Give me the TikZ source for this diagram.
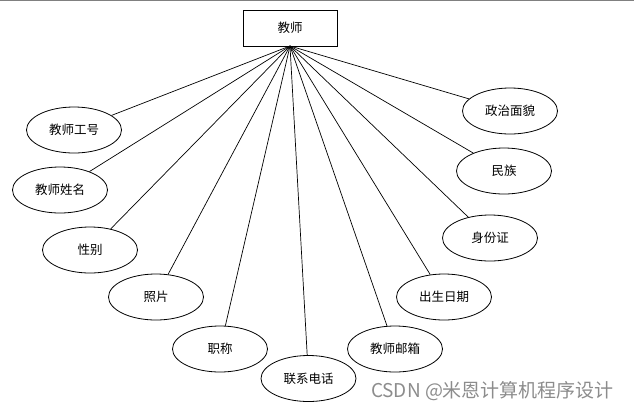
\documentclass[tikz,border=0pt]{standalone}
\usepackage{fontspec}
\setmainfont{Noto Sans CJK SC}
\usetikzlibrary{shapes.geometric}
\begin{document}
\begin{tikzpicture}[x=1pt,y=-1pt,
  attr/.style={draw=black,line width=0.8pt,ellipse,minimum width=95pt,minimum height=46pt,inner sep=0pt,font=\fontsize{12.5}{14}\selectfont},
  ent/.style={draw=black,line width=0.9pt,rectangle,minimum width=94pt,minimum height=36pt,inner sep=0pt,font=\fontsize{12.5}{14}\selectfont},
  link/.style={draw=black,line width=0.7pt}]
\useasboundingbox (0,0) rectangle (634,410);
\draw[gray,line width=1.2pt] (0,0.6) -- (634,0.6);
\node[ent] (t) at (290,28) {教师};
\coordinate (apex) at (290,46);
\node[attr] (a1) at (74,130) {教师工号};
\node[attr] (a2) at (60,190) {教师姓名};
\node[attr] (a3) at (90,250) {性别};
\node[attr] (a4) at (156,297) {照片};
\node[attr] (a5) at (220,349) {职称};
\node[attr] (a6) at (308.5,378.5) {联系电话};
\node[attr] (a7) at (395,349) {教师邮箱};
\node[attr] (a8) at (444,297) {出生日期};
\node[attr] (a9) at (490,238) {身份证};
\node[attr] (a10) at (504,171) {民族};
\node[attr] (a11) at (510,111) {政治面貌};
\foreach \n in {a1,a2,a3,a4,a5,a6,a7,a8,a9,a10,a11}
  \draw[link] (apex) -- (\n);
\node[text=black!45,font=\fontsize{19}{21}\selectfont,inner sep=0pt] (wm) at (492.5,391) {CSDN @米恩计算机程序设计};
\end{tikzpicture}
\end{document}
